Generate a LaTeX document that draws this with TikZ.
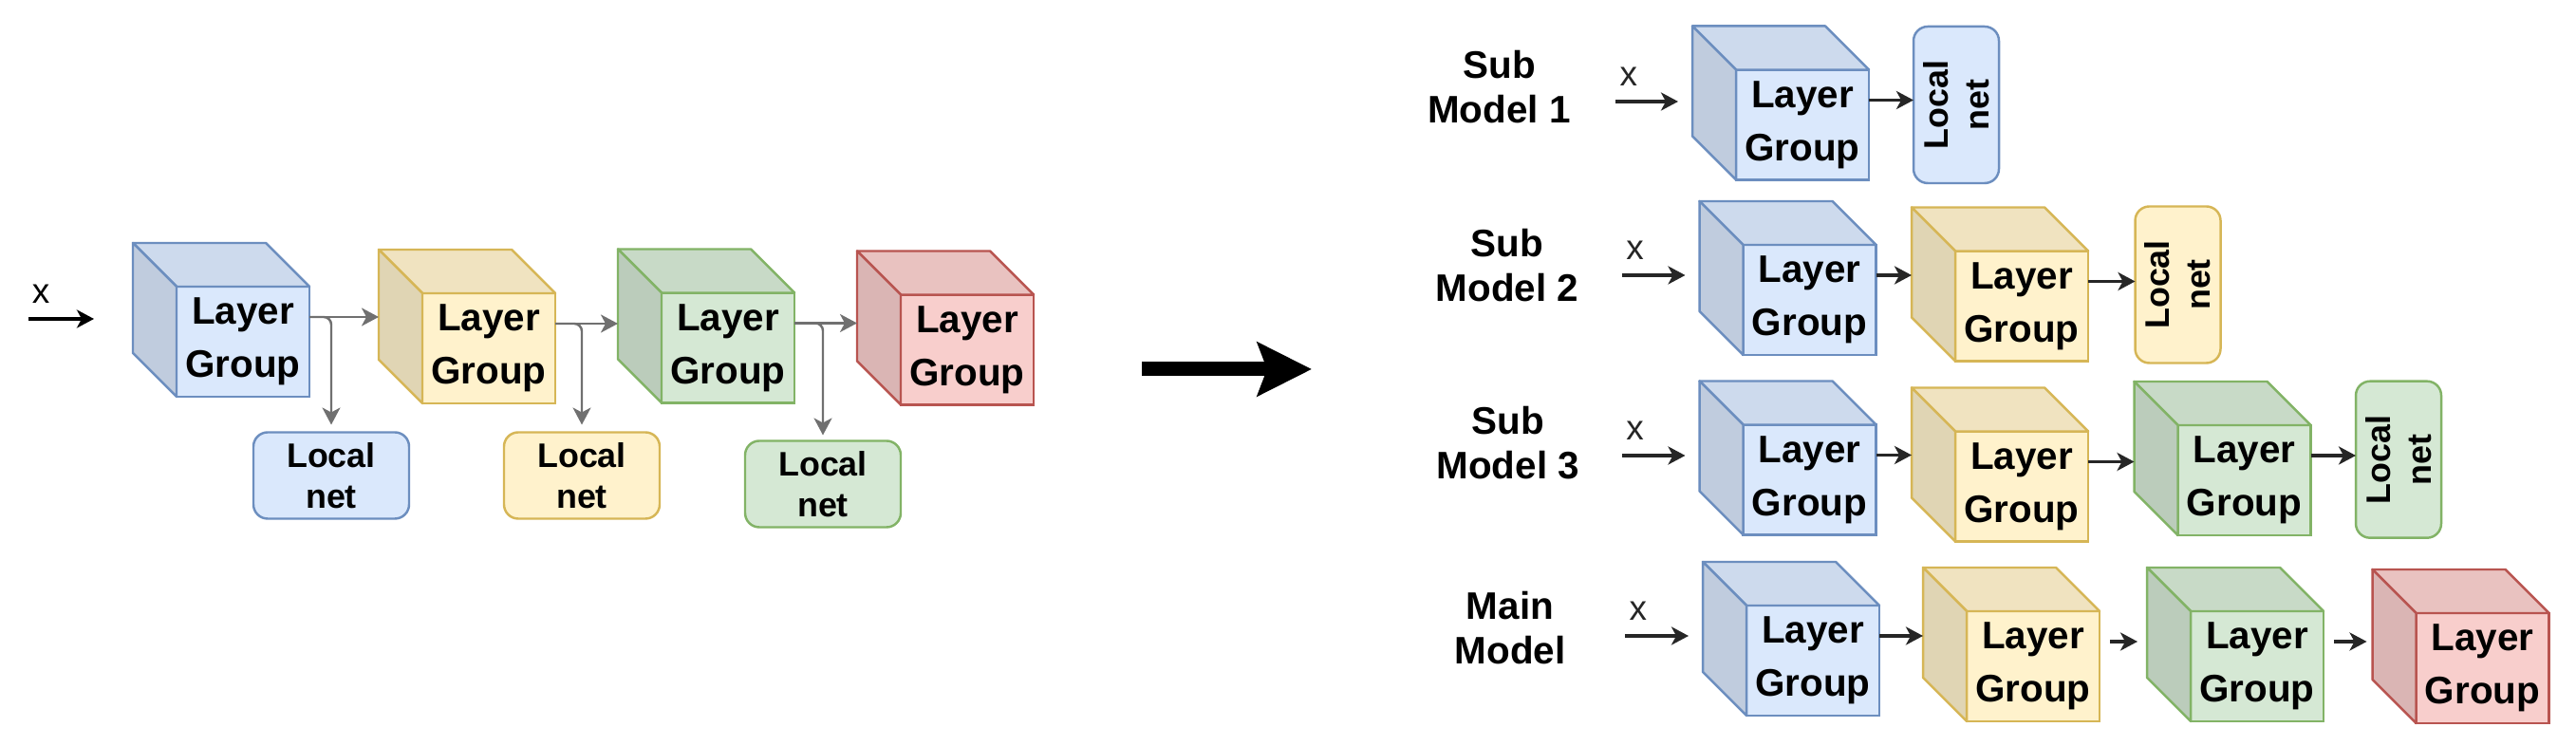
\documentclass[tikz,border=0pt]{standalone}
\usepackage{fontspec}
\setmainfont{Liberation Sans}
\usetikzlibrary{arrows.meta}
\definecolor{bluF}{HTML}{DAE8FC}
\definecolor{bluD}{HTML}{6C8EBF}
\definecolor{yelF}{HTML}{FFF2CC}
\definecolor{yelD}{HTML}{D6B656}
\definecolor{grnF}{HTML}{D5E8D4}
\definecolor{grnD}{HTML}{82B366}
\definecolor{redF}{HTML}{F8CECC}
\definecolor{redD}{HTML}{B85450}
\definecolor{arrgray}{HTML}{707070}
\tikzset{
  lg/.style={draw=#1D, fill=#1F, line width=0.7pt, minimum width=1.4cm,
    minimum height=1.16cm, inner sep=0pt, outer sep=0pt, align=center,
    font=\fontsize{11.5}{16}\selectfont\bfseries},
  ln/.style={draw=#1D, fill=#1F, line width=0.7pt, rounded corners=1.5mm,
    minimum width=1.64cm, minimum height=0.91cm, inner sep=0pt, outer sep=0pt,
    align=center, font=\fontsize{10.2}{12.3}\selectfont\bfseries},
  lnv/.style={ln=#1, rotate=90, minimum width=1.65cm, minimum height=0.9cm},
  mlab/.style={align=center, font=\fontsize{11.5}{13.3}\selectfont\bfseries},
  xlab/.style={font=\fontsize{10.5}{12}\selectfont, inner sep=0pt},
  arr/.style={-{Stealth[length=1.8mm, width=1.9mm, inset=0.5mm]}, line width=1pt, black!85},
  garr/.style={arr, line width=0.7pt, arrgray},
  bigarr/.style={-{Stealth[length=5.7mm, width=5.6mm, inset=1mm]}, line width=1.5mm, black}
}
\begin{document}
\begin{tikzpicture}
\useasboundingbox (0,0) rectangle (27.14,7.86);

% left: one network with local nets
\node[lg=blu] (g1) at (2.56,4.26) {Layer\\Group};
\node[lg=yel] (g2) at (5.15,4.19) {Layer\\Group};
\node[lg=grn] (g3) at (7.67,4.195) {Layer\\Group};
\node[lg=red] (g4) at (10.19,4.175) {Layer\\Group};
\node[ln=blu] (n1) at (3.49,2.85) {Local\\net};
\node[ln=yel] (n2) at (6.13,2.85) {Local\\net};
\node[ln=grn] (n3) at (8.67,2.76) {Local\\net};

% right: sub models and main model
\node[mlab] (s1l) at (15.795,6.945) {Sub\\Model 1};
\node[lg=blu] (s1g1) at (18.99,6.545) {Layer\\Group};
\node[lnv=blu] (s1n) at (20.61,6.755) {Local\\net};

\node[mlab] (s2l) at (15.88,5.065) {Sub\\Model 2};
\node[lg=blu] (s2g1) at (19.065,4.70) {Layer\\Group};
\node[lg=yel] (s2g2) at (21.30,4.635) {Layer\\Group};
\node[lnv=yel] (s2n) at (22.945,4.86) {Local\\net};

\node[mlab] (s3l) at (15.887,3.195) {Sub\\Model 3};
\node[lg=blu] (s3g1) at (19.065,2.805) {Layer\\Group};
\node[lg=yel] (s3g2) at (21.30,2.735) {Layer\\Group};
\node[lg=grn] (s3g3) at (23.645,2.80) {Layer\\Group};
\node[lnv=grn] (s3n) at (25.27,3.018) {Local\\net};

\node[mlab] (ml) at (15.91,1.245) {Main\\Model};
\node[lg=blu] (mg1) at (19.10,0.90) {Layer\\Group};
\node[lg=yel] (mg2) at (21.42,0.84) {Layer\\Group};
\node[lg=grn] (mg3) at (23.78,0.84) {Layer\\Group};
\node[lg=red] (mg4) at (26.155,0.82) {Layer\\Group};

% top and side faces of the cubes
\foreach \n/\col in {g1/blu, g2/yel, g3/grn, g4/red, s1g1/blu, s2g1/blu, s2g2/yel,
    s3g1/blu, s3g2/yel, s3g3/grn, mg1/blu, mg2/yel, mg3/grn, mg4/red} {
  \draw[draw=\col D, fill=\col F!94!black, line width=0.7pt, line join=round]
    (\n.north west) -- ++(-0.46,0.46) -- ++(1.4,0) -- (\n.north east) -- cycle;
  \draw[draw=\col D, fill=\col F!88!black, line width=0.7pt, line join=round]
    (\n.north west) -- ++(-0.46,0.46) -- ++(0,-1.16) -- (\n.south west) -- cycle;
  \coordinate (\n-b) at ([xshift=-4.6mm]\n.north west);
  \coordinate (\n-o) at ([yshift=-3.2mm]\n.north east);
}

% inputs
\coordinate (in0) at (0.30,4.50);
\coordinate (s1i) at (17.02,6.79);
\coordinate (s2i) at (17.086,4.96);
\coordinate (s3i) at (17.086,3.06);
\coordinate (mi) at (17.12,1.16);
\draw[arr, black, shorten >=4.1mm] (in0) -- (in0 -| g1-b) node[xlab, pos=0.12, above=1.5mm] (x0) {x};
\draw[arr, shorten >=1.5mm] (s1i) -- (s1i -| s1g1-b) node[xlab, pos=0.17, above=1.5mm] (x1) {x};
\draw[arr, shorten >=1.5mm] (s2i) -- (s2i -| s2g1-b) node[xlab, pos=0.17, above=1.5mm] (x2) {x};
\draw[arr, shorten >=1.5mm] (s3i) -- (s3i -| s3g1-b) node[xlab, pos=0.17, above=1.5mm] (x3) {x};
\draw[arr, shorten >=1.5mm] (mi) -- (mi -| mg1-b) node[xlab, pos=0.17, above=1.5mm] (x4) {x};

% left connectors
\draw[garr] (g1-o) -- (g1-o -| g2-b);
\draw[garr] (g2-o) -- (g2-o -| g3-b);
\draw[garr] (g3-o) -- (g3-o -| g4-b);
\draw[garr, rounded corners=0.8mm, shorten >=0.8mm] (g1-o) -| (n1.north);
\draw[garr, rounded corners=0.8mm, shorten >=0.8mm] (g2-o) -| (n2.north);
\draw[garr, rounded corners=0.8mm, shorten >=0.6mm] (g3-o) -| (n3.north);

% big arrow
\coordinate (ba0) at (12.03,3.97);
\coordinate (ba1) at (13.82,3.97);
\draw[bigarr] (ba0) -- (ba1);

% right connectors
\draw[arr] (s1g1-o) -- (s1g1-o -| s1n.north);
\draw[arr] (s2g1-o) -- (s2g1-o -| s2g2-b);
\draw[arr] (s2g2-o) -- (s2g2-o -| s2n.north);
\draw[arr] (s3g1-o) -- (s3g1-o -| s3g2-b);
\draw[arr] (s3g2-o) -- (s3g2-o -| s3g3-b);
\draw[arr] (s3g3-o) -- (s3g3-o -| s3n.north);
\draw[arr] (mg1-o) -- (mg1-o -| mg2-b);
\draw[arr, shorten <=1.1mm, shorten >=1mm] (mg2-o) -- (mg2-o -| mg3-b);
\draw[arr, shorten <=1.1mm, shorten >=0.6mm] (mg3-o) -- (mg3-o -| mg4-b);
\end{tikzpicture}
\end{document}
